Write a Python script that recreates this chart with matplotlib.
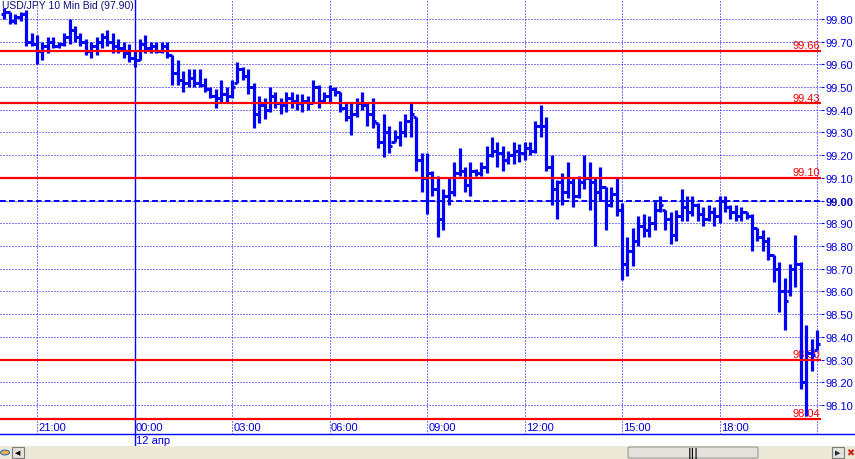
import matplotlib
matplotlib.use("Agg")
import matplotlib.pyplot as plt
from matplotlib.collections import LineCollection
from matplotlib.patches import Rectangle, FancyBboxPatch, Circle
import matplotlib.transforms as mtransforms

# ---------------- data (10-minute bars, first bar 20:00) ----------------
title = "USD/JPY 10 Min Bid (97.90)"
bar_minutes = 10
start_label = "20:00"

highs = [99.85, 99.83, 99.82, 99.83, 99.84, 99.74,
         99.73, 99.70, 99.72, 99.72, 99.70, 99.74, 99.80, 99.77, 99.74, 99.71,
         99.70, 99.72, 99.74, 99.75, 99.74, 99.71, 99.70, 99.69, 99.66, 99.71,
         99.73, 99.70, 99.70, 99.70, 99.70, 99.64, 99.62, 99.57, 99.58, 99.58,
         99.58, 99.54, 99.50, 99.49, 99.53, 99.50, 99.53, 99.61, 99.59, 99.58,
         99.52, 99.46, 99.45, 99.50, 99.48, 99.45, 99.48, 99.48, 99.47, 99.47,
         99.46, 99.53, 99.51, 99.48, 99.51, 99.50, 99.48, 99.43, 99.43, 99.45,
         99.48, 99.43, 99.45, 99.34, 99.38, 99.33, 99.31, 99.35, 99.38, 99.43,
         99.37, 99.21, 99.21, 99.13, 99.11, 99.05, 99.10, 99.17, 99.23, 99.15,
         99.17, 99.14, 99.17, 99.24, 99.28, 99.26, 99.24, 99.22, 99.26, 99.25,
         99.26, 99.26, 99.35, 99.42, 99.37, 99.20, 99.09, 99.12, 99.17, 99.10,
         99.11, 99.20, 99.17, 99.10, 99.15, 99.06, 99.06, 99.10, 98.99, 98.84,
         98.88, 98.93, 98.94, 98.93, 99.00, 99.02, 98.96, 98.95, 98.96, 99.05,
         99.02, 99.02, 98.99, 98.97, 98.98, 98.97, 99.02, 99.02, 98.98, 98.98,
         98.97, 98.95, 98.94, 98.88, 98.87, 98.84, 98.76, 98.73, 98.66, 98.72,
         98.85, 98.73, 98.45, 98.39, 98.43]

lows = [99.80, 99.78, 99.78, 99.79, 99.68, 99.68,
        99.60, 99.62, 99.65, 99.67, 99.67, 99.68, 99.69, 99.70, 99.68, 99.64,
        99.63, 99.64, 99.67, 99.68, 99.65, 99.65, 99.63, 99.61, 99.59, 99.62,
        99.65, 99.65, 99.65, 99.65, 99.63, 99.51, 99.51, 99.48, 99.50, 99.50,
        99.50, 99.48, 99.45, 99.41, 99.43, 99.43, 99.45, 99.52, 99.53, 99.47,
        99.32, 99.34, 99.36, 99.39, 99.41, 99.38, 99.39, 99.41, 99.40, 99.39,
        99.40, 99.43, 99.41, 99.43, 99.43, 99.46, 99.39, 99.35, 99.29, 99.37,
        99.40, 99.33, 99.32, 99.23, 99.19, 99.21, 99.26, 99.24, 99.28, 99.28,
        99.13, 99.04, 98.94, 99.02, 98.84, 98.87, 98.98, 99.02, 99.11, 99.04,
        99.02, 99.11, 99.11, 99.12, 99.19, 99.15, 99.13, 99.16, 99.16, 99.17,
        99.18, 99.20, 99.21, 99.28, 99.13, 98.98, 98.92, 98.98, 99.01, 98.97,
        99.01, 99.05, 98.96, 98.80, 99.00, 98.87, 98.97, 98.93, 98.65, 98.67,
        98.71, 98.80, 98.84, 98.84, 98.87, 98.95, 98.87, 98.81, 98.82, 98.91,
        98.91, 98.93, 98.91, 98.89, 98.91, 98.89, 98.90, 98.95, 98.92, 98.91,
        98.91, 98.92, 98.78, 98.82, 98.78, 98.74, 98.64, 98.51, 98.43, 98.58,
        98.62, 98.17, 98.05, 98.25, 98.34]

opens = [99.82, 99.83, 99.79, 99.81, 99.82, 99.70,
         99.69, 99.66, 99.68, 99.70, 99.68, 99.69, 99.72, 99.75, 99.72, 99.70,
         99.66, 99.68, 99.70, 99.72, 99.70, 99.68, 99.67, 99.65, 99.63, 99.62,
         99.69, 99.67, 99.68, 99.66, 99.68, 99.64, 99.56, 99.53, 99.52, 99.54,
         99.52, 99.51, 99.49, 99.46, 99.45, 99.47, 99.46, 99.52, 99.58, 99.55,
         99.50, 99.38, 99.42, 99.40, 99.46, 99.43, 99.42, 99.45, 99.44, 99.43,
         99.44, 99.43, 99.50, 99.44, 99.46, 99.49, 99.48, 99.41, 99.37, 99.38,
         99.43, 99.42, 99.38, 99.34, 99.26, 99.30, 99.26, 99.28, 99.30, 99.35,
         99.37, 99.18, 99.10, 99.12, 99.05, 98.92, 99.02, 99.04, 99.12, 99.13,
         99.07, 99.13, 99.12, 99.15, 99.20, 99.22, 99.21, 99.18, 99.20, 99.22,
         99.21, 99.23, 99.22, 99.33, 99.33, 99.15, 99.05, 99.08, 99.04, 99.08,
         99.02, 99.08, 99.10, 99.08, 99.04, 99.06, 98.98, 99.03, 98.96, 98.72,
         98.78, 98.82, 98.89, 98.87, 98.90, 98.96, 98.96, 98.92, 98.85, 98.93,
         98.97, 98.95, 98.98, 98.94, 98.92, 98.95, 98.93, 99.00, 98.97, 98.95,
         98.93, 98.95, 98.93, 98.88, 98.84, 98.82, 98.76, 98.70, 98.60, 98.60,
         98.70, 98.72, 98.20, 98.33, 98.34]

closes = [99.83, 99.79, 99.81, 99.82, 99.70, 99.69,
          99.66, 99.68, 99.70, 99.68, 99.69, 99.72, 99.75, 99.72, 99.70, 99.66,
          99.68, 99.70, 99.72, 99.70, 99.68, 99.67, 99.65, 99.63, 99.62, 99.69,
          99.67, 99.68, 99.66, 99.68, 99.64, 99.56, 99.53, 99.52, 99.54, 99.52,
          99.51, 99.49, 99.46, 99.45, 99.47, 99.46, 99.50, 99.58, 99.55, 99.50,
          99.38, 99.42, 99.40, 99.46, 99.43, 99.42, 99.45, 99.44, 99.43, 99.44,
          99.43, 99.50, 99.44, 99.46, 99.49, 99.48, 99.41, 99.37, 99.38, 99.43,
          99.42, 99.38, 99.35, 99.26, 99.30, 99.24, 99.28, 99.30, 99.35, 99.38,
          99.18, 99.10, 99.12, 99.05, 98.92, 99.02, 99.04, 99.12, 99.13, 99.07,
          99.13, 99.12, 99.15, 99.20, 99.22, 99.21, 99.18, 99.20, 99.22, 99.21,
          99.23, 99.22, 99.33, 99.33, 99.15, 99.05, 99.08, 99.04, 99.08, 99.02,
          99.08, 99.10, 99.08, 99.04, 99.06, 98.98, 99.03, 98.96, 98.72, 98.78,
          98.82, 98.89, 98.87, 98.90, 98.96, 98.98, 98.92, 98.85, 98.93, 98.97,
          98.95, 98.98, 98.94, 98.92, 98.95, 98.93, 99.00, 98.97, 98.95, 98.93,
          98.95, 98.93, 98.88, 98.84, 98.82, 98.76, 98.70, 98.60, 98.56, 98.70,
          98.72, 98.20, 98.33, 98.32, 98.37]

time_tick_bars = [6, 24, 42, 60, 78, 96, 114, 132]
time_tick_labels = ["21:00", "00:00", "03:00", "06:00", "09:00", "12:00", "15:00", "18:00"]
grid_extra_bar = 150          # 21:00 next day (hidden label)
day_break_bar = 24
day_label = "12 апр"

price_ticks = [98.10, 98.20, 98.30, 98.40, 98.50, 98.60, 98.70, 98.80, 98.90,
               99.00, 99.10, 99.20, 99.30, 99.40, 99.50, 99.60, 99.70, 99.80]
level_lines = [99.66, 99.43, 99.10, 98.30, 98.04]
level_labels = ["99.66", "99.43", "99.10", "98.30", "98.04"]
pivot_level = 99.00

# ---------------- figure ----------------
W, H = 855, 460
fig = plt.figure(figsize=(W / 100, H / 100), dpi=100)
fig.patch.set_facecolor("white")
ax = fig.add_axes([0, 25 / H, 821 / W, 435 / H])
ax.set_xlim(-0.83, 150.73)
ax.set_ylim(97.972, 99.888)
for s in ax.spines.values():
    s.set_visible(False)

BLUE = "#0000FF"
TXT = "#0000E0"
RED = "#FF0000"
FONT = "Liberation Sans"

# grid
for p in price_ticks:
    ax.axhline(p, color=BLUE, lw=0.72, ls=(0, (1, 2)), zorder=1)
for b in time_tick_bars[:1] + time_tick_bars[2:] + [grid_extra_bar]:
    ax.axvline(b, color=BLUE, lw=0.72, ls=(0, (1, 2)), zorder=1)
ax.axvline(day_break_bar, ymin=-12 / 435, ymax=1, color=BLUE, lw=1.0,
           clip_on=False, zorder=1)

# level labels (under bars)
for lv, lab in zip(level_lines, level_labels):
    ax.text(150.6, lv + 0.002, lab, color=RED, fontsize=8, family=FONT,
            ha="right", va="bottom", zorder=2)

# OHLC bars
segs_v, segs_t = [], []
for j, (o, h, l, c) in enumerate(zip(opens, highs, lows, closes)):
    segs_v.append([(j, l), (j, h)])
    segs_t.append([(j - 0.6, o), (j, o)])
    segs_t.append([(j, c), (j + 0.6, c)])
ax.add_collection(LineCollection(segs_v, colors=BLUE, linewidths=2.3,
                                 capstyle="butt", zorder=3, clip_on=False))
ax.add_collection(LineCollection(segs_t, colors=BLUE, linewidths=2.1,
                                 capstyle="butt", zorder=3, clip_on=False))

# level lines
for lv in level_lines:
    ax.axhline(lv, color=RED, lw=1.6, zorder=4)
ax.axhline(pivot_level, color=BLUE, lw=1.4, ls=(0, (3, 1.6)), zorder=4)

# right price axis
ax.yaxis.tick_right()
ax.set_yticks(price_ticks, labels=[f"{p:.2f}" for p in price_ticks])
ax.tick_params(axis="y", length=2, width=0.8, color=BLUE, pad=1,
               labelsize=8, labelcolor=TXT)
for t in ax.get_yticklabels():
    t.set_family(FONT)
    if t.get_text() == f"{pivot_level:.2f}":
        t.set_fontweight("bold")
        t.set_color("#0000C0")
ax.set_xticks([])

# time labels inside bottom row
trans = mtransforms.blended_transform_factory(ax.transData, ax.transAxes)
for b, lab in zip(time_tick_bars, time_tick_labels):
    ax.text(b + 0.25, 6.5 / 435, lab, transform=trans, color=TXT, fontsize=8,
            family=FONT, ha="left", va="center", zorder=5)
ax.text(day_break_bar + 0.3, -6.5 / 435, day_label,
        transform=trans, color=TXT, fontsize=8, family=FONT,
        ha="left", va="center", clip_on=False)

# title
fig.text(2 / W, 1 - 1 / H, title, color="#101080", fontsize=7.5, family=FONT,
         ha="left", va="top", zorder=10)

# bottom axis line
fig.add_artist(plt.Line2D([0, 1], [1 - 435 / H, 1 - 435 / H],
                          color=BLUE, lw=1.0, transform=fig.transFigure))

# scroll bar strip
def fx(px):
    return px / W

def fy(py):
    return 1 - py / H

fig.add_artist(Rectangle((0, 0), 1, 13 / H, transform=fig.transFigure,
                         facecolor="#ECE9D8", edgecolor="none"))
fig.add_artist(FancyBboxPatch((fx(628), fy(459)), fx(130), 11 / H,
                              boxstyle="round,pad=0,rounding_size=0.002",
                              transform=fig.transFigure,
                              facecolor="#E4E2DA", edgecolor="#9A9A9A", lw=0.8))
fig.text(fx(693), fy(453.5), "|||", fontsize=7, fontweight="bold",
         family="DejaVu Sans", ha="center", va="center", color="black")
fig.add_artist(Rectangle((fx(12), fy(459)), fx(12), 11 / H, transform=fig.transFigure,
                         facecolor="#E4E2DA", edgecolor="#7A7A7A", lw=0.8))
fig.text(fx(18), fy(453.5), "◀", fontsize=5, family="DejaVu Sans",
         ha="center", va="center", color="black")
fig.add_artist(Rectangle((fx(832), fy(459)), fx(12), 11 / H, transform=fig.transFigure,
                         facecolor="#E4E2DA", edgecolor="#7A7A7A", lw=0.8))
fig.text(fx(838), fy(453.5), "▶", fontsize=5, family="DejaVu Sans",
         ha="center", va="center", color="#203040")
fig.add_artist(Circle((fx(5), fy(453.5)), 4.5 / W, transform=fig.transFigure,
                      facecolor="#F0B040", edgecolor="#3070C0", lw=0.8))
fig.text(fx(850), fy(453.5), "✖", fontsize=7, family="DejaVu Sans",
         ha="center", va="center", color="#D02020")

fig.savefig("out.png", dpi=100, facecolor="white")
